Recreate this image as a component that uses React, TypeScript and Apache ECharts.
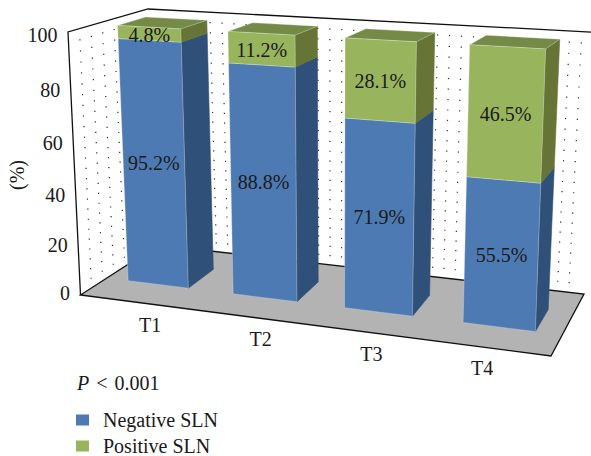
import React, { useEffect, useRef } from "react";
import * as echarts from "echarts";

const categories = ["T1", "T2", "T3", "T4"];
const negativeSLN = [95.2, 88.8, 71.9, 55.5];
const positiveSLN = [4.8, 11.2, 28.1, 46.5];
const yTicks = [0, 20, 40, 60, 80, 100];
const seriesNames = ["Negative SLN", "Positive SLN"];

const W = 591;
const H = 456;
const FONT = '"Liberation Serif", serif';
const FS = 20;
const INK = "#1a1a1a";

// The box the chart stands in, as it appears on the page
const FLOOR = { fl: [80.5, 295], fr: [551, 356], bl: [158, 245], br: [584, 294] };
const CEIL = { fl: [68, 32], fr: [561.4, 59.8], bl: [148, 9], br: [598, 32.4] };
const D0 = 0.34;
const D1 = 0.7;

const warp = (t: number, w: number) => t / (t + (1 - t) * w);
const lerp = (a: number, b: number, t: number) => a + (b - a) * t;
const bilinear = (c: any, x: number, d: number) => [0, 1].map((k) =>
  lerp(lerp(c.fl[k], c.fr[k], x), lerp(c.bl[k], c.br[k], x), d)
);
function project(u: number, d: number, t: number) {
  const x = warp(u, 1.13);
  const f = warp(t, 1.08);
  const a = bilinear(FLOOR, x, d);
  const b = bilinear(CEIL, x, d);
  return [lerp(a[0], b[0], f), lerp(a[1], b[1], f)];
}

const textEl = (text: string, x: number, y: number, align = "center", extra: any = {}) => ({
  type: "text",
  x,
  y,
  silent: true,
  ...extra,
  style: { text, fill: INK, font: `${FS}px ${FONT}`, align, verticalAlign: "middle" },
});

const frameItem = () => {
  const dots: any[] = [];
  const dot = (p: number[]) =>
    dots.push({ type: "rect", shape: { x: p[0] - 0.6, y: p[1] - 0.6, width: 1.2, height: 1.2 }, style: { fill: "#2a2a2a" }, silent: true });
  for (let v = 4; v < 100; v += 4) {
    const t = v / 100;
    for (let k = 1; k < 7; k++) dot(project(0, k / 7, t));
    for (let j = 0; j < 38; j++) {
      const a = bilinear(FLOOR, (j + 0.15) / 37.5, 1);
      const b = bilinear(CEIL, (j + 0.15) / 37.5, 1);
      if (b[0] < 591) dot([lerp(a[0], b[0], warp(t, 1.08)), lerp(a[1], b[1], warp(t, 1.08))]);
    }
  }
  const line = (pts: number[][]) => ({
    type: "polyline",
    shape: { points: pts },
    silent: true,
    style: { stroke: "#111", lineWidth: 1.3, fill: "none" },
  });
  return {
    type: "group",
    children: [
      ...dots,
      {
        type: "polygon",
        shape: { points: [FLOOR.fl, FLOOR.fr, FLOOR.br, FLOOR.bl] },
        silent: true,
        style: { fill: "#b3b3b3" },
      },
      line([FLOOR.bl, FLOOR.fl, FLOOR.fr, FLOOR.br, FLOOR.bl]),
      line([FLOOR.fl, CEIL.fl, CEIL.bl, CEIL.br]),
    ],
  };
};

const barRenderer = (front: string, side: string, top: string) => (params: any, api: any) => {
  const i = api.value(0);
  const v0 = api.value(1);
  const v1 = api.value(2);
  const p0 = api.coord([i, v0]);
  const p1 = api.coord([i, v1]);
  const half = (api.size([1, 0])[0] * 0.29) / W;
  const uc = p0[0] / W;
  const u0 = uc - half;
  const u1 = uc + half;
  const t0 = 1 - p0[1] / H;
  const t1 = 1 - p1[1] / H;
  const poly = (pts: number[][], fill: string, edge = "rgba(225,235,225,0.55)") => ({
    type: "polygon",
    shape: { points: pts },
    silent: true,
    style: { fill, stroke: edge, lineWidth: 0.6 },
  });
  const frontPts = [project(u0, D0, t0), project(u1, D0, t0), project(u1, D0, t1), project(u0, D0, t1)];
  const cx = frontPts.reduce((s, p) => s + p[0], 0) / 4;
  const cy = frontPts.reduce((s, p) => s + p[1], 0) / 4;
  const children: any[] = [
    poly([project(u1, D0, t0), project(u1, D1, t0), project(u1, D1, t1), project(u1, D0, t1)], side, side),
  ];
  if (v1 >= 99.9) {
    children.push(poly([project(u0, D0, t1), project(u1, D0, t1), project(u1, D1, t1), project(u0, D1, t1)], top));
  }
  children.push(poly(frontPts, front));
  children.push(textEl(`${api.value(3).toFixed(1)}%`, cx, cy + 1));
  return { type: "group", children };
};

const axisTextItem = (params: any, api: any) => {
  const children: any[] = [];
  categories.forEach((c, i) => {
    const u = api.coord([i, 0])[0] / W;
    children.push(textEl(c, 94.7 + 442.7 * u, 317.8 + 57.3 * u));
  });
  yTicks.forEach((v) => {
    const t = 1 - api.coord([0, v])[1] / H;
    const p = project(0, 0, t);
    children.push(textEl(String(v), p[0] - 10.5, p[1] + t * 5 - 2, "right"));
  });
  children.push(textEl("(%)", 17, 175, "center", { rotation: Math.PI / 2 }));
  return { type: "group", children };
};

export default function App() {
  const ref = useRef<HTMLDivElement>(null);
  useEffect(() => {
    document.body.style.margin = "0";
    const chart = echarts.init(ref.current!, null, { renderer: "svg" });
    // 100% stacked: each column is scaled to the sum of its two values
    const share = (i: number, v: number) => (v / (negativeSLN[i] + positiveSLN[i])) * 100;
    const negData = negativeSLN.map((v, i) => [i, 0, share(i, v), v]);
    const posData = positiveSLN.map((v, i) => [i, share(i, negativeSLN[i]), 100, v]);
    chart.setOption({
      animation: false,
      backgroundColor: "#fff",
      grid: { left: 0, top: 0, width: W, height: H },
      xAxis: { type: "category", data: categories, show: false },
      yAxis: { type: "value", min: 0, max: 100, interval: 20, show: false },
      legend: {
        data: seriesNames,
        orient: "vertical",
        left: 76,
        top: 410,
        padding: 0,
        icon: "rect",
        itemWidth: 13,
        itemHeight: 11,
        itemGap: 6,
        selectedMode: false,
        textStyle: { fontFamily: FONT, fontSize: FS, color: INK, padding: [0, 0, 0, 9], lineHeight: 20 },
      },
      graphic: [
        {
          type: "text",
          left: 77,
          top: 373,
          silent: true,
          style: {
            text: "{i|P} {l|<} 0.001",
            rich: {
              i: { font: `italic ${FS}px ${FONT}`, fill: INK },
              l: { font: `${FS}px ${FONT}`, fill: INK, padding: [0, 2, 0, 2] },
            },
            font: `${FS}px ${FONT}`,
            fill: INK,
          },
        },
      ],
      series: [
        { type: "custom", name: "frame", data: [[0, 0]], renderItem: frameItem, silent: true, z: 1 },
        {
          type: "custom",
          name: seriesNames[0],
          data: negData,
          encode: { x: 0, y: [1, 2] },
          itemStyle: { color: "#4d7ab2" },
          renderItem: barRenderer("#4d7ab2", "#2f5078", "#3f6a9c"),
          silent: true,
          z: 2,
        },
        {
          type: "custom",
          name: seriesNames[1],
          data: posData,
          encode: { x: 0, y: [1, 2] },
          itemStyle: { color: "#98b45c" },
          renderItem: barRenderer("#98b45c", "#667536", "#768a48"),
          silent: true,
          z: 3,
        },
        { type: "custom", name: "axis text", data: [[0, 0]], renderItem: axisTextItem, silent: true, z: 4 },
      ],
    });
    return () => chart.dispose();
  }, []);
  return <div ref={ref} style={{ position: "absolute", left: 0, top: 0, width: W, height: H }} />;
}
